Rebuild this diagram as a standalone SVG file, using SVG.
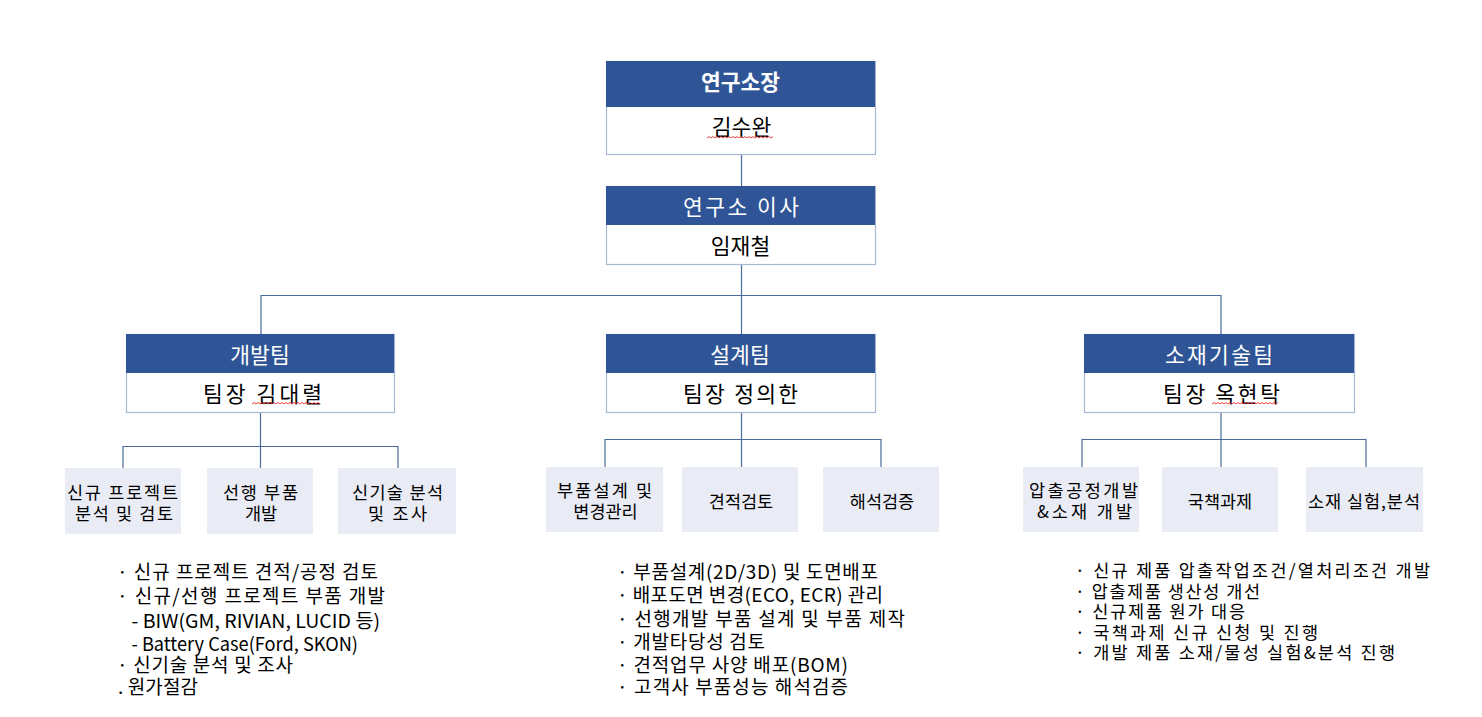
<svg xmlns="http://www.w3.org/2000/svg" width="1482" height="717" viewBox="0 0 1482 717">
<defs>
<style>
.box{fill:#ffffff;stroke:#A7B8D3;stroke-width:1.2}
.hdr{fill:#2F5597}
.sub{fill:#E9ECF5}
.ln{fill:none;stroke:#4A6C9B;stroke-width:1.2}
.sq{fill:none;stroke:#E03030;stroke-width:0.9}
text{font-family:"Noto Sans CJK KR","Noto Sans",sans-serif;}
.ht{fill:#ffffff;font-size:21.5px;text-anchor:middle}
.nt{fill:#000000;font-size:21.5px;text-anchor:middle}
.st{fill:#000000;font-size:17.5px;text-anchor:middle}
.lt{fill:#000000;font-size:19px}
.l3{fill:#000000;font-size:17.5px}
</style>
</defs>
<rect width="1482" height="717" fill="#ffffff"/>

<g id="connectors">
<path class="ln" d="M741.5 154V186M741.5 264V295.5M261 295.5H1221M261 295V334M741.5 295V334M1221 295V334"/>
<path class="ln" d="M260.5 412V468M123 446.5H398M123 446V468M398 446V468"/>
<path class="ln" d="M741.5 412V467M605 439.5H881M605 439V467M881 439V467"/>
<path class="ln" d="M1221 412V467M1082 439.5H1366M1082 439V467M1366 439V467"/>
</g>

<g id="director">
<rect class="box" x="606.5" y="61.5" width="269" height="93"/>
<rect class="hdr" x="606" y="61" width="269" height="46"/>
<text class="ht" x="740.5" y="90" font-weight="bold">연구소장</text>
<text class="nt" x="741.5" y="135">김수완</text>
</g>

<g id="vice">
<rect class="box" x="606.5" y="186.5" width="269" height="78"/>
<rect class="hdr" x="606" y="186" width="269" height="39"/>
<text class="ht" x="741" y="214.5" textLength="116" lengthAdjust="spacing">연구소 이사</text>
<text class="nt" x="740.5" y="253.5">임재철</text>
</g>

<g id="team-dev">
<rect class="box" x="126.5" y="334.5" width="268" height="78"/>
<rect class="hdr" x="126" y="334" width="268" height="39"/>
<text class="ht" x="260" y="363">개발팀</text>
<text class="nt" x="262.5" y="401.5" textLength="119" lengthAdjust="spacing">팀장 김대렬</text>
</g>

<g id="team-design">
<rect class="box" x="606.5" y="334.5" width="269" height="78"/>
<rect class="hdr" x="606" y="334" width="269" height="39"/>
<text class="ht" x="740" y="363">설계팀</text>
<text class="nt" x="740.5" y="401.5" textLength="115" lengthAdjust="spacing">팀장 정의한</text>
</g>

<g id="team-material">
<rect class="box" x="1084.5" y="334.5" width="270" height="78"/>
<rect class="hdr" x="1084" y="334" width="270" height="39"/>
<text class="ht" x="1219" y="363" textLength="108" lengthAdjust="spacing">소재기술팀</text>
<text class="nt" x="1221.5" y="401.5" textLength="117" lengthAdjust="spacing">팀장 옥현탁</text>
</g>

<g id="dev-1">
<rect class="sub" x="65" y="468" width="116" height="66"/>
<text class="st" x="122.5" y="499" textLength="111" lengthAdjust="spacing">신규 프로젝트</text>
<text class="st" x="124" y="520" textLength="98" lengthAdjust="spacing">분석 및 검토</text>
</g>
<g id="dev-2">
<rect class="sub" x="207" y="468" width="106" height="66"/>
<text class="st" x="260.5" y="499" textLength="75" lengthAdjust="spacing">선행 부품</text>
<text class="st" x="261" y="520">개발</text>
</g>
<g id="dev-3">
<rect class="sub" x="338" y="468" width="118" height="66"/>
<text class="st" x="397.5" y="499" textLength="91" lengthAdjust="spacing">신기술 분석</text>
<text class="st" x="397.5" y="520" textLength="59" lengthAdjust="spacing">및 조사</text>
</g>

<g id="design-1">
<rect class="sub" x="546" y="467" width="117" height="65"/>
<text class="st" x="604.5" y="497" textLength="95" lengthAdjust="spacing">부품설계 및</text>
<text class="st" x="605.5" y="518">변경관리</text>
</g>
<g id="design-2">
<rect class="sub" x="682" y="467" width="116" height="65"/>
<text class="st" x="741" y="508">견적검토</text>
</g>
<g id="design-3">
<rect class="sub" x="823" y="467" width="116" height="65"/>
<text class="st" x="882" y="508">해석검증</text>
</g>

<g id="mat-1">
<rect class="sub" x="1023" y="467" width="116" height="65"/>
<text class="st" x="1083.5" y="497" textLength="109" lengthAdjust="spacing">압출공정개발</text>
<text class="st" x="1084.5" y="518" textLength="95" lengthAdjust="spacing">&amp;소재 개발</text>
</g>
<g id="mat-2">
<rect class="sub" x="1162" y="467" width="116" height="65"/>
<text class="st" x="1220" y="508">국책과제</text>
</g>
<g id="mat-3">
<rect class="sub" x="1306" y="467" width="117" height="65"/>
<text class="st" x="1364" y="508" textLength="112" lengthAdjust="spacing">소재 실험,분석</text>
</g>

<g id="list-dev">
<text class="lt" x="117" y="579" textLength="261" lengthAdjust="spacing">· 신규 프로젝트 견적/공정 검토</text>
<text class="lt" x="117" y="603" textLength="268" lengthAdjust="spacing">· 신규/선행 프로젝트 부품 개발</text>
<text class="lt" x="131.5" y="628" textLength="248.5" lengthAdjust="spacingAndGlyphs">- BIW(GM, RIVIAN, LUCID 등)</text>
<text class="lt" x="131.5" y="651" textLength="226.5" lengthAdjust="spacingAndGlyphs">- Battery Case(Ford, SKON)</text>
<text class="lt" x="117" y="672" textLength="176" lengthAdjust="spacing">· 신기술 분석 및 조사</text>
<text class="lt" x="118" y="694" textLength="80" lengthAdjust="spacing">. 원가절감</text>
</g>

<g id="list-design">
<text class="lt" x="617" y="579" textLength="261" lengthAdjust="spacing">· 부품설계(2D/3D) 및 도면배포</text>
<text class="lt" x="617" y="602" textLength="266" lengthAdjust="spacing">· 배포도면 변경(ECO, ECR) 관리</text>
<text class="lt" x="617" y="626" textLength="288" lengthAdjust="spacing">· 선행개발 부품 설계 및 부품 제작</text>
<text class="lt" x="617" y="649" textLength="148" lengthAdjust="spacing">· 개발타당성 검토</text>
<text class="lt" x="617" y="672" textLength="231" lengthAdjust="spacing">· 견적업무 사양 배포(BOM)</text>
<text class="lt" x="617" y="694" textLength="231" lengthAdjust="spacing">· 고객사 부품성능 해석검증</text>
</g>

<g id="list-material">
<text class="l3" x="1075" y="577" textLength="355" lengthAdjust="spacing">· 신규 제품 압출작업조건/열처리조건 개발</text>
<text class="l3" x="1075" y="598" textLength="185" lengthAdjust="spacing">· 압출제품 생산성 개선</text>
<text class="l3" x="1075" y="618" textLength="170" lengthAdjust="spacing">· 신규제품 원가 대응</text>
<text class="l3" x="1075" y="639" textLength="243" lengthAdjust="spacing">· 국책과제 신규 신청 및 진행</text>
<text class="l3" x="1075" y="659" textLength="320" lengthAdjust="spacing">· 개발 제품 소재/물성 실험&amp;분석 진행</text>
</g>

<g id="spell-marks">
<path class="sq" d="M707 138l2 -1.5l2 1.5l2 -1.5l2 1.5l2 -1.5l2 1.5l2 -1.5l2 1.5l2 -1.5l2 1.5l2 -1.5l2 1.5l2 -1.5l2 1.5l2 -1.5l2 1.5l2 -1.5l2 1.5l2 -1.5l2 1.5l2 -1.5l2 1.5l2 -1.5l2 1.5l2 -1.5l2 1.5l2 -1.5l2 1.5l2 -1.5l2 1.5l2 -1.5l2 1.5l2 -1.5"/>
<path class="sq" d="M252 404l2 -1.5l2 1.5l2 -1.5l2 1.5l2 -1.5l2 1.5l2 -1.5l2 1.5l2 -1.5l2 1.5l2 -1.5l2 1.5l2 -1.5l2 1.5l2 -1.5l2 1.5l2 -1.5l2 1.5l2 -1.5l2 1.5l2 -1.5l2 1.5l2 -1.5l2 1.5l2 -1.5l2 1.5l2 -1.5l2 1.5l2 -1.5l2 1.5l2 -1.5l2 1.5l2 -1.5l2 1.5"/>
<path class="sq" d="M1212 404l2 -1.5l2 1.5l2 -1.5l2 1.5l2 -1.5l2 1.5l2 -1.5l2 1.5l2 -1.5l2 1.5l2 -1.5l2 1.5l2 -1.5l2 1.5l2 -1.5l2 1.5l2 -1.5l2 1.5l2 -1.5l2 1.5l2 -1.5l2 1.5l2 -1.5l2 1.5l2 -1.5l2 1.5l2 -1.5l2 1.5l2 -1.5l2 1.5l2 -1.5l2 1.5l2 -1.5"/>
</g>
</svg>
